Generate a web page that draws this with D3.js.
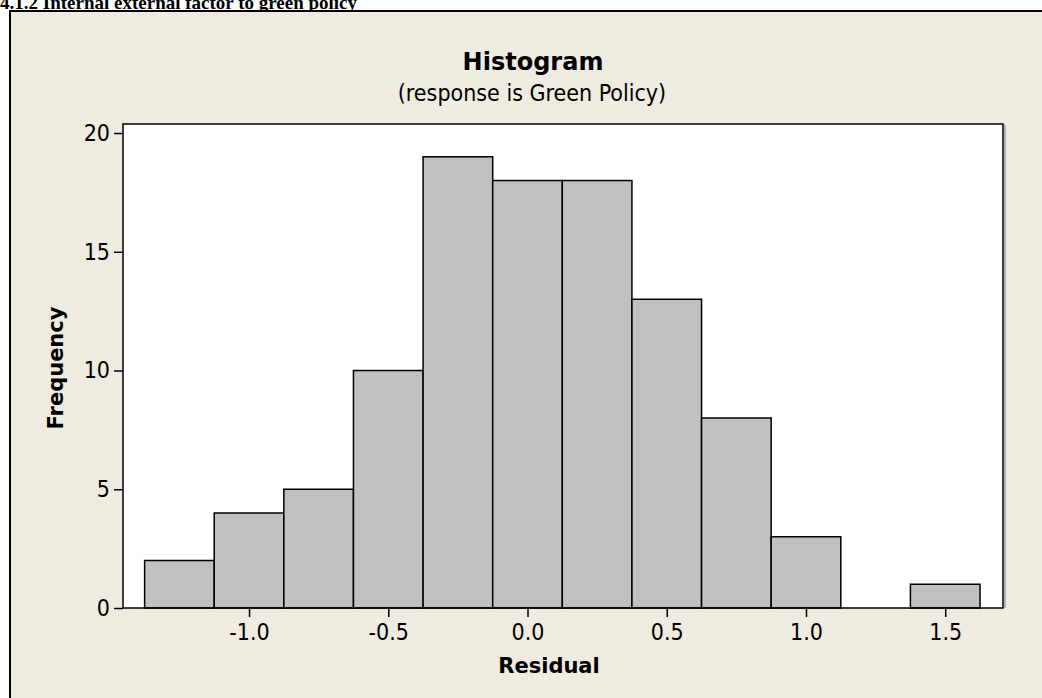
<!DOCTYPE html>
<html><head><meta charset="utf-8">
<script src="https://cdn.jsdelivr.net/npm/d3@7"></script>
<style>html,body{margin:0;padding:0;background:#fff;overflow:hidden}</style>
</head><body><svg id="c" width="1042" height="698"></svg>
<script>
const binCenters = [-1.25,-1.0,-0.75,-0.5,-0.25,0.0,0.25,0.5,0.75,1.0,1.25,1.5];
const counts = [2,4,5,10,19,18,18,13,8,3,0,1];
const binWidth = 0.25;
const xTicks = [-1.0,-0.5,0.0,0.5,1.0,1.5];
const yTicks = [0,5,10,15,20];
const pageHeading = "4.1.2 Internal external factor to green policy";
const title = "Histogram";
const subtitle = "(response is Green Policy)";
const xLabel = "Residual";
const yLabel = "Frequency";

const font = "'DejaVu Sans Condensed','DejaVu Sans',sans-serif";
const boldFont = "'DejaVu Sans',sans-serif";
const svg = d3.select("#c");
const L=123, R=1003, T=124, B=608;
const x = d3.scaleLinear().domain([-1.4526,1.7075]).range([L,R]);
const y = d3.scaleLinear().domain([0,20.38]).range([B,T]);
const fmt = d => d3.format(".1f")(d).replace("\u2212","-");

svg.append("text").attr("x",0).attr("y",9)
  .attr("font-family","'Liberation Serif','Times New Roman',serif").attr("font-weight","bold")
  .attr("font-size",19).attr("fill","#000").text(pageHeading);

svg.append("rect").attr("x",10).attr("y",11).attr("width",1060).attr("height",720)
  .attr("fill","#EFEBE1").attr("stroke","#000").attr("stroke-width",2);

svg.append("line").attr("x1",R+2).attr("x2",R+2).attr("y1",T+1).attr("y2",B)
  .attr("stroke","#A0A0A0").attr("stroke-width",1.5);

svg.append("rect").attr("x",L).attr("y",T).attr("width",R-L).attr("height",B-T)
  .attr("fill","#fff");

svg.append("g").selectAll("rect").data(binCenters).join("rect")
  .attr("x",(d)=>x(d-binWidth/2)).attr("width",(d)=>x(d+binWidth/2)-x(d-binWidth/2))
  .attr("y",(d,i)=>y(counts[i])).attr("height",(d,i)=>y(0)-y(counts[i]))
  .attr("fill","#C0C0C0").attr("stroke","#000").attr("stroke-width",1.5);

svg.append("rect").attr("x",L).attr("y",T).attr("width",R-L).attr("height",B-T)
  .attr("fill","none").attr("stroke","#000").attr("stroke-width",1.5);

const xa = svg.append("g").attr("transform",`translate(0,${B})`)
  .call(d3.axisBottom(x).tickValues(xTicks).tickFormat(fmt).tickSize(9).tickPadding(7));
const ya = svg.append("g").attr("transform",`translate(${L},0)`)
  .call(d3.axisLeft(y).tickValues(yTicks).tickSize(9).tickPadding(4));
[xa,ya].forEach(a=>{
  a.select(".domain").remove();
  a.selectAll("line").attr("stroke","#000").attr("stroke-width",1.5);
  a.selectAll("text").attr("font-family",font).attr("font-size",23).attr("fill","#000");
});

svg.append("text").attr("x",533).attr("y",70).attr("text-anchor","middle")
  .attr("font-family",boldFont).attr("font-weight","bold").attr("font-size",24).text(title);
svg.append("text").attr("x",532).attr("y",101).attr("text-anchor","middle")
  .attr("font-family",font).attr("font-size",23).text(subtitle);
svg.append("text").attr("x",549).attr("y",673).attr("text-anchor","middle")
  .attr("font-family",boldFont).attr("font-weight","bold").attr("font-size",21).text(xLabel);
svg.append("text").attr("transform","translate(63,368) rotate(-90)").attr("text-anchor","middle")
  .attr("font-family",boldFont).attr("font-weight","bold").attr("font-size",21).text(yLabel);
</script></body></html>
